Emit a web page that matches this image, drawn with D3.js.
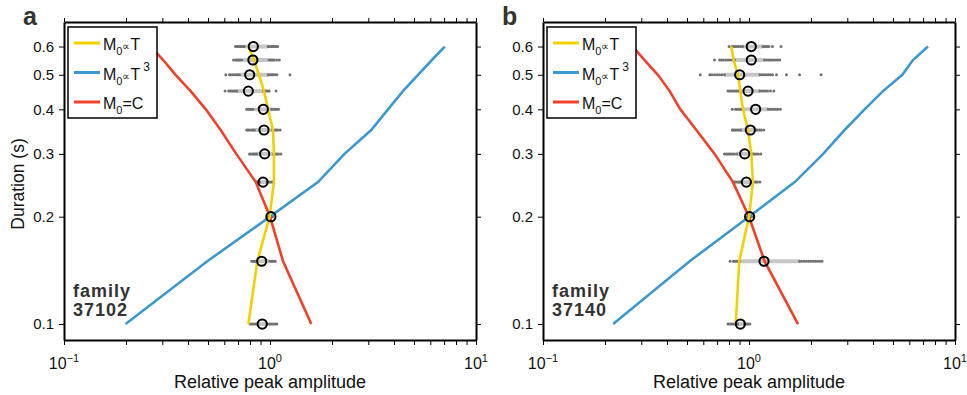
<!DOCTYPE html>
<html>
<head>
<meta charset="utf-8">
<script src="https://cdn.jsdelivr.net/npm/d3@7"></script>
<style>
body { margin: 0; background: #fff; }
svg { font-family: "Liberation Sans", Arial, sans-serif; }
</style>
</head>
<body>
<svg width="967" height="395"></svg>
<script>
// durations (s) shared by both families
var durations = [0.1, 0.15, 0.2, 0.25, 0.3, 0.35, 0.4, 0.45, 0.5, 0.55, 0.6];
var yTicks = [0.1, 0.2, 0.3, 0.4, 0.5, 0.6];
var xMajor = [0.1, 1, 10];
var xMajorLabels = ["\u22121", "0", "1"];

// family 37102
var aLinear = [0.785, 0.868, 0.995, 1.045, 1.045, 1.034, 0.978, 0.935, 0.884, 0.836, 0.785];
var aCubic  = [0.199, 0.496, 1.0, 1.71, 2.3, 3.1, 3.74, 4.42, 5.23, 6.11, 7.05];
var aConst  = [1.587, 1.157, 1.0, 0.853, 0.686, 0.576, 0.488, 0.412, 0.348, 0.303, 0.264];
var aMedian = [0.917, 0.911, 1.01, 0.925, 0.942, 0.935, 0.928, 0.785, 0.797, 0.826, 0.83];
var aBars = [[0.86, 0.97], [0.877, 1.0], [0.98, 1.02], [0.89, 0.97], [0.86, 1.04], [0.846, 1.03],
             [0.846, 1.02], [0.69, 0.93], [0.715, 0.98], [0.74, 0.98], [0.756, 0.98]];
var aDots = [
  [0.8, 0.815, 0.83, 0.845, 0.86, 0.97, 0.99, 1.0, 1.02, 1.04, 1.06, 1.08],
  [0.815, 0.83, 0.84, 0.85, 0.86, 0.87, 1.0, 1.015, 1.03, 1.045, 1.06],
  [0.97, 0.985, 1.0, 1.015, 1.03],
  [0.86, 0.87, 0.88, 0.89, 0.97, 0.985, 1.0, 1.015, 1.03],
  [0.795, 0.805, 0.82, 0.83, 0.84, 0.85, 0.86, 1.04, 1.055, 1.07, 1.085, 1.1, 1.13],
  [0.77, 0.78, 0.79, 0.805, 0.82, 0.83, 0.84, 1.03, 1.045, 1.06, 1.075, 1.09, 1.12],
  [0.77, 0.78, 0.79, 0.8, 0.81, 0.82, 0.83, 1.02, 1.035, 1.05, 1.065, 1.08, 1.1],
  [0.605, 0.63, 0.64, 0.65, 0.66, 0.67, 0.68, 0.69, 0.93, 0.945, 0.96, 0.975, 0.99, 1.07],
  [0.61, 0.635, 0.645, 0.66, 0.675, 0.69, 0.70, 0.71, 0.98, 0.995, 1.01, 1.025, 1.04, 1.06, 1.08, 1.25],
  [0.665, 0.68, 0.69, 0.70, 0.71, 0.72, 0.73, 0.99, 1.005, 1.02, 1.035, 1.05, 1.08, 1.11],
  [0.68, 0.69, 0.70, 0.71, 0.72, 0.73, 0.74, 0.75, 0.98, 0.995, 1.01, 1.025, 1.04, 1.055, 1.07, 1.09]
];

// family 37140
var bLinear = [0.862, 0.897, 1.0, 1.045, 1.026, 0.989, 0.935, 0.908, 0.884, 0.842, 0.821];
var bCubic  = [0.219, 0.515, 1.0, 1.667, 2.29, 2.91, 3.64, 4.47, 5.55, 6.25, 7.39];
var bConst  = [1.73, 1.19, 1.0, 0.836, 0.681, 0.555, 0.464, 0.412, 0.361, 0.311, 0.273];
var bMedian = [0.908, 1.183, 1.007, 0.971, 0.953, 1.015, 1.077, 0.989, 0.901, 1.026, 1.026];
var bBars = [[0.87, 0.95], [0.9, 1.76], [0.99, 1.02], [0.91, 1.03], [0.87, 1.05], [0.91, 1.09],
             [0.93, 1.24], [0.88, 1.13], [0.76, 1.13], [0.85, 1.19], [0.93, 1.17]];
var bDots = [
  [0.79, 0.80, 0.82, 0.835, 0.85, 0.865, 0.88, 0.95, 0.965, 0.98, 0.99, 1.01],
  [0.81, 0.84, 0.855, 0.87, 0.885, 0.9, 1.76, 1.8, 1.85, 1.9, 1.95, 2.0, 2.05, 2.1, 2.15, 2.2, 2.26],
  [0.98, 0.99, 1.0, 1.015, 1.03],
  [0.84, 0.85, 0.86, 0.875, 0.89, 0.9, 0.91, 1.03, 1.05, 1.07, 1.085, 1.1, 1.13],
  [0.76, 0.775, 0.79, 0.805, 0.82, 0.835, 0.85, 0.87, 1.05, 1.07, 1.09, 1.11, 1.14],
  [0.83, 0.84, 0.85, 0.865, 0.88, 0.895, 0.91, 1.09, 1.11, 1.13, 1.15, 1.18],
  [0.83, 0.86, 0.875, 0.89, 0.905, 0.92, 0.93, 1.24, 1.265, 1.29, 1.32, 1.35, 1.38, 1.42],
  [0.79, 0.805, 0.82, 0.835, 0.85, 0.865, 0.88, 1.13, 1.155, 1.18, 1.205, 1.23, 1.27, 1.32],
  [0.58, 0.645, 0.66, 0.68, 0.70, 0.72, 0.74, 0.76, 1.13, 1.155, 1.18, 1.21, 1.24, 1.27, 1.3, 1.36, 1.52, 1.76, 2.24],
  [0.68, 0.72, 0.735, 0.75, 0.77, 0.79, 0.81, 0.83, 0.85, 1.19, 1.215, 1.24, 1.265, 1.29, 1.32, 1.35, 1.38, 1.41],
  [0.8, 0.83, 0.845, 0.86, 0.875, 0.89, 0.91, 0.93, 1.17, 1.19, 1.21, 1.23, 1.25, 1.3, 1.43]
];

var colors = {linear: "#f2d000", cubic: "#3f97cf", constant: "#f0412b"};

var svg = d3.select("svg");
var width = 412, height = 318;

var x = d3.scaleLog().domain([0.1, 10]).range([0, width]);
var y = d3.scaleLog().domain([0.0902, 0.703]).range([height, 0]);

var xMinor = [];
[0.1, 1].forEach(function(d) {
  for (var k = 1; k <= 10; k++) xMinor.push(+(d * k).toPrecision(3));
});

drawPanel({left: 64, top: 22, letter: "a", family: "37102",
  linear: aLinear, cubic: aCubic, constant: aConst, median: aMedian, bars: aBars, dots: aDots});
drawPanel({left: 543, top: 22, letter: "b", family: "37140",
  linear: bLinear, cubic: bCubic, constant: bConst, median: bMedian, bars: bBars, dots: bDots});

function drawPanel(p) {
  var g = svg.append("g").attr("transform", "translate(" + p.left + "," + p.top + ")");

  // axes on all four sides, ticks outward
  var left = g.append("g").call(d3.axisLeft(y).tickValues(yTicks).tickFormat(d3.format(".1f")).tickSize(5).tickSizeOuter(0).tickPadding(5));
  var right = g.append("g").attr("transform", "translate(" + width + ",0)")
    .call(d3.axisRight(y).tickValues(yTicks).tickFormat("").tickSize(5).tickSizeOuter(0));
  var bottom = g.append("g").attr("transform", "translate(0," + height + ")")
    .call(d3.axisBottom(x).tickValues(xMinor).tickFormat("").tickSize(5).tickSizeOuter(0));
  var top = g.append("g")
    .call(d3.axisTop(x).tickValues(xMinor).tickFormat("").tickSize(4).tickSizeOuter(0));

  [left, right, bottom, top].forEach(function(a) {
    a.select(".domain").attr("stroke", "#000").attr("stroke-width", 2);
    a.selectAll(".tick line").attr("stroke", "#000").attr("stroke-width", 1);
  });
  left.selectAll(".tick text").attr("font-size", "15px").attr("fill", "#111")
    .attr("font-family", "Liberation Sans, Arial, sans-serif");

  // 10^n labels
  var xl = g.append("g").selectAll("text").data(xMajor).enter().append("text")
    .attr("x", function(d) { return x(d); })
    .attr("y", height + 29)
    .attr("text-anchor", "middle")
    .attr("font-size", "16px")
    .attr("fill", "#111");
  xl.append("tspan").text("10");
  xl.append("tspan").attr("dy", -7).attr("font-size", "11px")
    .text(function(d, i) { return xMajorLabels[i]; });

  // gray spread of individual estimates
  var rows = g.append("g");
  durations.forEach(function(dur, i) {
    rows.append("line")
      .attr("x1", x(p.bars[i][0])).attr("x2", x(p.bars[i][1]))
      .attr("y1", y(dur)).attr("y2", y(dur))
      .attr("stroke", "#c6c6c6").attr("stroke-width", 4);
    rows.append("g").selectAll("circle").data(p.dots[i]).enter().append("circle")
      .attr("cx", function(d) { return x(d); })
      .attr("cy", y(dur))
      .attr("r", 1.5)
      .attr("fill", "#727272");
  });

  // model curves
  var line = d3.line()
    .x(function(d) { return x(d[0]); })
    .y(function(d) { return y(d[1]); });
  [["cubic", p.cubic], ["constant", p.constant], ["linear", p.linear]].forEach(function(s) {
    g.append("path")
      .datum(s[1].map(function(v, i) { return [v, durations[i]]; }))
      .attr("d", line)
      .attr("fill", "none")
      .attr("stroke", colors[s[0]])
      .attr("stroke-width", 2.6);
  });

  // median markers
  g.append("g").selectAll("circle").data(p.median).enter().append("circle")
    .attr("cx", function(d) { return x(d); })
    .attr("cy", function(d, i) { return y(durations[i]); })
    .attr("r", 4.6)
    .attr("fill", "none")
    .attr("stroke", "#000")
    .attr("stroke-width", 2);

  // legend
  var lg = g.append("g").attr("transform", "translate(4,5)");
  lg.append("rect").attr("width", 89).attr("height", 91)
    .attr("fill", "#fff").attr("stroke", "#000").attr("stroke-width", 1.5);
  var entries = [["linear", "\u221dT", ""], ["cubic", "\u221dT", "3"], ["constant", "=C", ""]];
  entries.forEach(function(e, i) {
    var ly = 16 + i * 29.5;
    lg.append("line").attr("x1", 6).attr("x2", 32).attr("y1", ly).attr("y2", ly)
      .attr("stroke", colors[e[0]]).attr("stroke-width", 3);
    var t = lg.append("text").attr("x", 35).attr("y", ly + 7)
      .attr("font-size", "16px").attr("fill", "#111");
    t.append("tspan").text("M");
    t.append("tspan").attr("dy", 5).attr("font-size", "11px").text("0");
    if (e[1].charAt(0) == "=") {
      t.append("tspan").attr("dy", -5).text(e[1]);
    } else {
      t.append("tspan").attr("dy", -5).attr("font-size", "11px").text("\u221d");
      t.append("tspan").text("T");
    }
    if (e[2]) t.append("tspan").attr("dx", 3).attr("dy", -9).attr("font-size", "12px").text(e[2]);
  });

  // family id
  var ft = g.append("text").attr("x", 9).attr("font-size", "18px").attr("font-weight", "bold")
    .attr("fill", "#333").attr("letter-spacing", "1px");
  ft.append("tspan").attr("x", 9).attr("y", 275).text("family");
  ft.append("tspan").attr("x", 9).attr("y", 294).text(p.family);

  // panel letter
  svg.append("text").attr("x", p.left - 41).attr("y", 25)
    .attr("font-size", "25px").attr("font-weight", "bold").attr("fill", "#333")
    .text(p.letter);

  // x title
  g.append("text")
    .attr("x", width / 2).attr("y", height + 48)
    .attr("text-anchor", "middle")
    .attr("font-size", "18px").attr("fill", "#111")
    .text("Relative peak amplitude");
}

svg.append("text")
  .attr("transform", "translate(24,184) rotate(-90)")
  .attr("text-anchor", "middle")
  .attr("font-size", "17.5px").attr("fill", "#111")
  .text("Duration (s)");
</script>
</body>
</html>
